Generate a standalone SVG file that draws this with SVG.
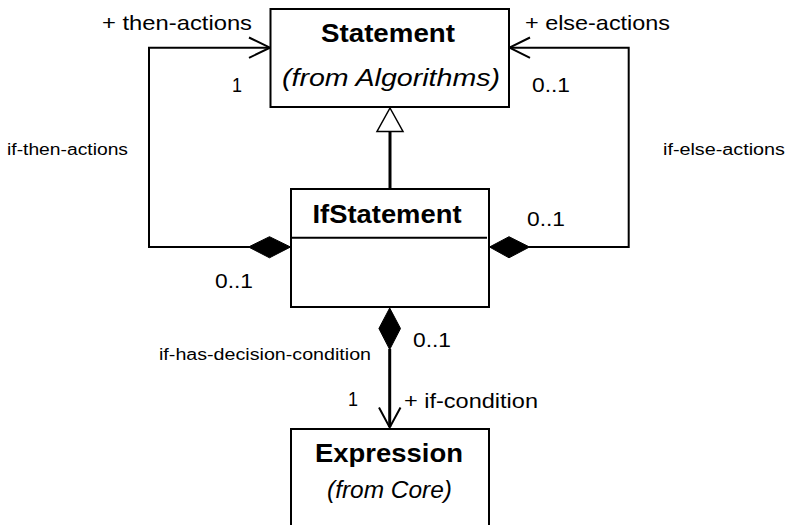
<svg xmlns="http://www.w3.org/2000/svg" width="786" height="525" viewBox="0 0 786 525">
<style>
.box{fill:#fff;stroke:#000;stroke-width:2}
.ln{fill:none;stroke:#000;stroke-width:2}
.thick{fill:none;stroke:#000;stroke-width:3}
.dia{fill:#000;stroke:#000;stroke-width:1}
.tri{fill:#fff;stroke:#000;stroke-width:1.5}
text{font-family:"Liberation Sans",Arial,sans-serif;fill:#000}
.name{font-size:25px;font-weight:bold}
.pkg{font-size:24px;font-style:italic}
.lab{font-size:21px}
.small{font-size:16px}
</style>
<rect width="786" height="525" fill="#fff"/>
<g id="connectors">
  <polyline class="ln" points="249,247 149,247 149,47.7 269,47.7"/>
  <polyline class="ln" points="249,37.5 270,47.7 249,57.9"/>
  <polygon class="dia" points="248.5,247 269.5,236.7 290.5,247 269.5,257.8"/>
  <polyline class="ln" points="529,247 628.7,247 628.7,47.7 510,47.7"/>
  <polyline class="ln" points="530,37.5 509.5,47.7 530,57.9"/>
  <polygon class="dia" points="489.5,247 509,236.7 529.5,247 509,257.8"/>
  <line class="thick" x1="390" y1="131.5" x2="390" y2="189"/>
  <polygon class="tri" points="390,108 403,131.5 377,131.5"/>
  <line class="thick" x1="389.7" y1="349" x2="389.7" y2="427"/>
  <polyline class="ln" points="379,407.5 389.7,427.5 400.5,407.5"/>
  <polygon class="dia" points="389.7,308 400.5,328.5 389.7,349.5 378.9,328.5"/>
</g>
<g id="statement">
  <rect class="box" x="270.5" y="9" width="238.5" height="98"/>
  <text class="name" x="321" y="42" textLength="134" lengthAdjust="spacingAndGlyphs">Statement</text>
  <text class="pkg" x="282" y="86" textLength="218" lengthAdjust="spacingAndGlyphs">(from Algorithms)</text>
</g>
<g id="ifstatement">
  <rect class="box" x="291" y="189" width="198" height="118"/>
  <line class="ln" x1="291" y1="237.7" x2="487" y2="237.7"/>
  <text class="name" x="312.5" y="223" textLength="149" lengthAdjust="spacingAndGlyphs">IfStatement</text>
</g>
<g id="expression">
  <rect class="box" x="291" y="429" width="198" height="120"/>
  <text class="name" x="315" y="462" textLength="148" lengthAdjust="spacingAndGlyphs">Expression</text>
  <text class="pkg" x="327" y="498" textLength="125" lengthAdjust="spacingAndGlyphs">(from Core)</text>
</g>
<g id="labels">
  <text class="lab" x="102" y="30" textLength="150" lengthAdjust="spacingAndGlyphs">+ then-actions</text>
  <text class="lab" x="232" y="92" textLength="10" lengthAdjust="spacingAndGlyphs">1</text>
  <text class="small" x="7" y="155" textLength="121" lengthAdjust="spacingAndGlyphs">if-then-actions</text>
  <text class="lab" x="525" y="30" textLength="145" lengthAdjust="spacingAndGlyphs">+ else-actions</text>
  <text class="lab" x="532" y="92" textLength="38" lengthAdjust="spacingAndGlyphs">0..1</text>
  <text class="small" x="663" y="155" textLength="122" lengthAdjust="spacingAndGlyphs">if-else-actions</text>
  <text class="lab" x="527" y="226" textLength="38" lengthAdjust="spacingAndGlyphs">0..1</text>
  <text class="lab" x="215" y="288" textLength="38" lengthAdjust="spacingAndGlyphs">0..1</text>
  <text class="small" x="159" y="360" textLength="212" lengthAdjust="spacingAndGlyphs">if-has-decision-condition</text>
  <text class="lab" x="413" y="347" textLength="38" lengthAdjust="spacingAndGlyphs">0..1</text>
  <text class="lab" x="348" y="406" textLength="10" lengthAdjust="spacingAndGlyphs">1</text>
  <text class="lab" x="404" y="408" textLength="134" lengthAdjust="spacingAndGlyphs">+ if-condition</text>
</g>
</svg>
